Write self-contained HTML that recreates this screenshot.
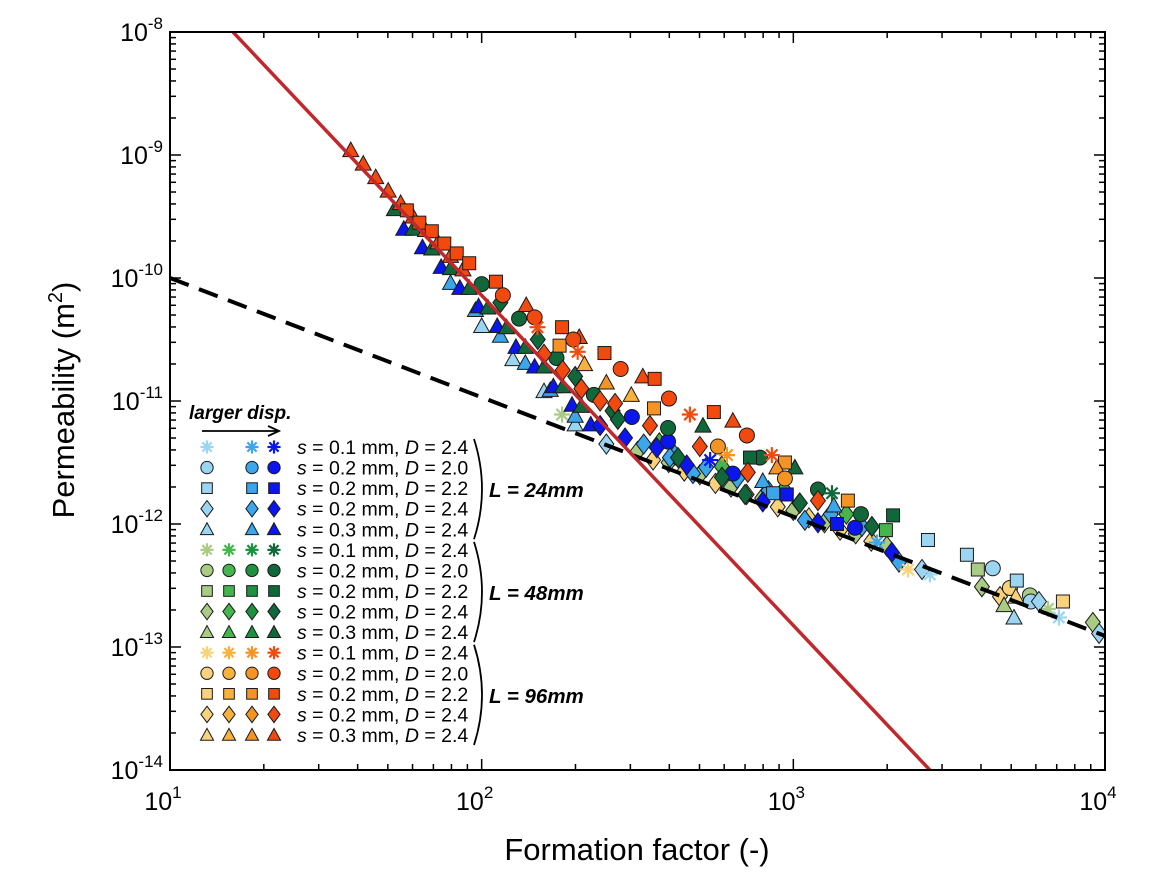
<!DOCTYPE html>
<html><head><meta charset="utf-8"><style>
body{margin:0;background:#fff;}
svg text{font-family:"Liberation Sans",Arial,sans-serif;}
</style></head><body>
<svg id="chart" width="1160" height="876" viewBox="0 0 1160 876" xmlns="http://www.w3.org/2000/svg">
<defs><clipPath id="pc"><rect x="170" y="32" width="935" height="738"/></clipPath></defs>
<g id="marks" clip-path="url(#pc)"></g>
<g id="axes"></g>
<g id="legend"></g>
</svg>
<script>
// ---- data (log10 units) ----
const xDecades=[1,2,3,4];
const yDecades=[-8,-9,-10,-11,-12,-13,-14];
const redLineLogF=[1.202,3.438];
const redLineLogK=[-8,-14];
const dashLogF=[1,4];
const dashLogK=[-10,-12.91];

const rdTriF=[1.58,1.62,1.66,1.70,1.74,1.78,1.82,1.86,1.90,1.94,2.143,2.313,2.517,2.806];
const rdTriK=[-8.96,-9.07,-9.18,-9.29,-9.39,-9.50,-9.61,-9.71,-9.82,-9.93,-10.22,-10.48,-10.80,-11.16];
const rdSqF=[1.76,1.80,1.84,1.88,1.92,1.96,2.046,2.258,2.394,2.555,2.745];
const rdSqK=[-9.45,-9.55,-9.62,-9.72,-9.80,-9.88,-10.03,-10.40,-10.61,-10.82,-11.09];
const rdCircF=[2.068,2.170,2.294,2.446,2.601,2.851];
const rdCircK=[-10.14,-10.32,-10.50,-10.74,-10.98,-11.28];
const rdAstF=[2.179,2.308,2.668,2.931];
const rdAstK=[-10.40,-10.60,-11.11,-11.44];
const rdDiaF=[2.20,2.26,2.32,2.38,2.428,2.540,2.700,2.854,3.079];
const rdDiaK=[-10.62,-10.75,-10.90,-11.00,-11.02,-11.20,-11.37,-11.58,-11.81];
const o3SqF=[2.25,2.553,2.973,3.175];
const o3SqK=[-10.55,-11.06,-11.50,-11.81];
const o3TriF=[2.40,2.947];
const o3TriK=[-10.85,-11.54];
const o3CircF=[2.758,2.973];
const o3CircK=[-11.37,-11.63];
const o3AstF=[2.787];
const o3AstK=[-11.44];
const o2TriF=[2.33,2.48];
const o2TriK=[-10.7,-10.95];
const dgTriF=[1.72,1.78,1.84,1.90,1.96,2.02,2.08,2.14,2.20,2.26,2.32,2.710,3.005];
const dgTriK=[-9.44,-9.60,-9.76,-9.92,-10.08,-10.24,-10.40,-10.56,-10.72,-10.88,-11.04,-11.20,-11.54];
const dgCircF=[2.0,2.12,2.24,2.36,2.598,2.893,3.079,3.217];
const dgCircK=[-10.05,-10.33,-10.65,-10.95,-11.22,-11.46,-11.72,-11.92];
const dgDiaF=[2.06,2.18,2.30,2.42,2.437,2.630,2.771,2.845,3.021,3.252];
const dgDiaK=[-10.2,-10.5,-10.8,-11.08,-11.15,-11.46,-11.62,-11.76,-11.83,-12.02];
const dgSqF=[2.861,3.320];
const dgSqK=[-11.46,-11.93];
const dgAstF=[3.124];
const dgAstK=[-11.75];
const g2SqF=[3.297];
const g2SqK=[-12.05];
const g2DiaF=[2.57,2.77,2.97,3.17];
const g2DiaK=[-11.34,-11.53,-11.72,-11.92];
const blTriF=[1.75,1.81,1.87,1.93,1.99,2.05,2.11,2.17,2.23,2.29,2.35];
const blTriK=[-9.60,-9.75,-9.91,-10.08,-10.23,-10.39,-10.56,-10.72,-10.88,-11.03,-11.19];
const blCircF=[2.482,2.598,2.806,3.198];
const blCircK=[-11.13,-11.33,-11.59,-12.03];
const blDiaF=[2.38,2.46,2.562,2.658,2.902,3.079,3.316];
const blDiaK=[-11.2,-11.3,-11.38,-11.52,-11.82,-11.99,-12.23];
const blSqF=[2.979,3.140];
const blSqK=[-11.76,-12.0];
const blAstF=[2.733];
const blAstK=[-11.48];
const mbTriF=[1.90,1.98,2.06,2.14,2.22,2.30,2.902,3.130];
const mbTriK=[-10.04,-10.26,-10.47,-10.69,-10.91,-11.12,-11.65,-11.85];
const mbDiaF=[2.52,2.62,2.72,2.82,2.92,3.02,3.12,3.22,2.604,2.678,3.037,3.339];
const mbDiaK=[-11.35,-11.44,-11.54,-11.63,-11.73,-11.83,-11.92,-12.02,-11.46,-11.59,-11.97,-12.31];
const mbSqF=[2.935];
const mbSqK=[-11.75];
const mbAstF=[3.268];
const mbAstK=[-12.15];
const lbTriF=[2.0,2.1,2.2,2.3,3.708];
const lbTriK=[-10.39,-10.66,-10.92,-11.19,-12.76];
const lbSqF=[3.432,3.557,3.717];
const lbSqK=[-12.13,-12.25,-12.46];
const lbCircF=[3.640,3.762];
const lbCircK=[-12.36,-12.63];
const lbDiaF=[2.4,3.413,3.788,3.981];
const lbDiaK=[-11.35,-12.37,-12.63,-12.89];
const lbAstF=[3.438,3.852];
const lbAstK=[-12.41,-12.76];
const lgSqF=[3.592];
const lgSqK=[-12.37];
const lgDiaF=[2.50,2.6,2.7,2.8,2.9,3.0,3.1,3.2,3.3,3.605,3.961];
const lgDiaK=[-11.41,-11.50,-11.60,-11.70,-11.79,-11.89,-11.99,-12.08,-12.18,-12.51,-12.80];
const lgTriF=[3.676];
const lgTriK=[-12.66];
const lgCircF=[3.759];
const lgCircK=[-12.58];
const lgAstF=[3.817,2.258];
const lgAstK=[-12.69,-11.11];
const lyDiaF=[2.55,2.65,2.75,2.85,2.95,3.05,3.15,3.25,3.663];
const lyDiaK=[-11.48,-11.57,-11.67,-11.76,-11.86,-11.95,-12.05,-12.14,-12.59];
const lyCircF=[3.695];
const lyCircK=[-12.52];
const lyTriF=[3.714];
const lyTriK=[-12.59];
const lySqF=[3.865];
const lySqK=[-12.63];
const lyAstF=[3.368];
const lyAstK=[-12.37];

const COL={lb:'#9bd5f2',mb:'#3ba6ea',bl:'#0b16ee',lg:'#aacb84',g2:'#45b64e',g3:'#1c9140',dg:'#10683a',ly:'#f9d27e',o2:'#f8b23c',o3:'#f39425',rd:'#f24a0e'};
const SERIES=[
['dia','lg',lgDiaF,lgDiaK],['dia','ly',lyDiaF,lyDiaK],['dia','g2',g2DiaF,g2DiaK],['dia','mb',mbDiaF,mbDiaK],
['sq','lg',lgSqF,lgSqK],['tri','lg',lgTriF,lgTriK],['circ','lg',lgCircF,lgCircK],['ast','lg',lgAstF,lgAstK],
['circ','ly',lyCircF,lyCircK],['tri','ly',lyTriF,lyTriK],['sq','ly',lySqF,lySqK],['ast','ly',lyAstF,lyAstK],
['tri','lb',lbTriF,lbTriK],['sq','lb',lbSqF,lbSqK],['circ','lb',lbCircF,lbCircK],['dia','lb',lbDiaF,lbDiaK],['ast','lb',lbAstF,lbAstK],
['tri','mb',mbTriF,mbTriK],['sq','mb',mbSqF,mbSqK],['ast','mb',mbAstF,mbAstK],
['tri','bl',blTriF,blTriK],['circ','bl',blCircF,blCircK],['dia','bl',blDiaF,blDiaK],['sq','bl',blSqF,blSqK],['ast','bl',blAstF,blAstK],
['tri','dg',dgTriF,dgTriK],['circ','dg',dgCircF,dgCircK],['dia','dg',dgDiaF,dgDiaK],['sq','dg',dgSqF,dgSqK],['ast','dg',dgAstF,dgAstK],['sq','g2',g2SqF,g2SqK],
['tri','o2',o2TriF,o2TriK],['sq','o3',o3SqF,o3SqK],['tri','o3',o3TriF,o3TriK],['circ','o3',o3CircF,o3CircK],['ast','o3',o3AstF,o3AstK],
['tri','rd',rdTriF,rdTriK],['sq','rd',rdSqF,rdSqK],['circ','rd',rdCircF,rdCircK],['ast','rd',rdAstF,rdAstK],['dia','rd',rdDiaF,rdDiaK]
];

// ---- scales ----
const X0=170,X1=1105,Y0=32,Y1=770;
const xs=l=>X0+(l-1)/3*(X1-X0);
const ys=l=>Y0+(-8-l)/6*(Y1-Y0);
const NS='http://www.w3.org/2000/svg';
function mk(tag,attrs,parent){const e=document.createElementNS(NS,tag);for(const k in attrs)e.setAttribute(k,attrs[k]);parent.appendChild(e);return e;}

function marker(shape,color,cx,cy,parent,s){
  s=s||1;let e;const st={fill:color,stroke:'#1a1a1a','stroke-width':1};
  if(shape==='circ'){e=mk('circle',Object.assign({cx:cx,cy:cy,r:7.5*s},st),parent);}
  else if(shape==='sq'){e=mk('rect',Object.assign({x:cx-6.5*s,y:cy-6.5*s,width:13*s,height:13*s},st),parent);}
  else if(shape==='dia'){e=mk('polygon',Object.assign({points:`${cx},${cy-10*s} ${cx+7.5*s},${cy} ${cx},${cy+10*s} ${cx-7.5*s},${cy}`},st),parent);}
  else if(shape==='tri'){e=mk('polygon',Object.assign({points:`${cx},${cy-8*s} ${cx+8*s},${cy+6.5*s} ${cx-8*s},${cy+6.5*s}`},st),parent);}
  else {e=mk('g',{stroke:color,'stroke-width':2.2},parent);const r=8*s;
    for(let a=0;a<4;a++){const t=a*Math.PI/4;mk('line',{x1:cx-r*Math.cos(t),y1:cy-r*Math.sin(t),x2:cx+r*Math.cos(t),y2:cy+r*Math.sin(t)},e);}}
  return e;
}

const marks=document.getElementById('marks');
SERIES.forEach(([shape,c,F,K])=>{
  F.forEach((f,i)=>{
    const m=marker(shape,COL[c],xs(f),ys(K[i]),marks);
    
    
  });
});
const dl=mk('line',{x1:xs(dashLogF[0]),y1:ys(dashLogK[0]),x2:xs(dashLogF[1]),y2:ys(dashLogK[1]),stroke:'#000','stroke-width':4,'stroke-dasharray':'20 11'},marks);


const rl=mk('line',{x1:xs(redLineLogF[0]),y1:ys(redLineLogK[0]),x2:xs(redLineLogF[1]),y2:ys(redLineLogK[1]),stroke:'#c0282c','stroke-width':3.5},marks);



// ---- axes ----
const ax=document.getElementById('axes');
mk('rect',{x:X0,y:Y0,width:X1-X0,height:Y1-Y0,fill:'none',stroke:'#000','stroke-width':2},ax);
for(let d=1;d<=4;d++){
  for(let m=1;m<=9;m++){ if(d===4&&m>1)break;
    const x=xs(d+Math.log10(m));const L=m===1?11:6;
    mk('line',{x1:x,y1:Y1,x2:x,y2:Y1-L,stroke:'#000','stroke-width':1.5},ax);
    mk('line',{x1:x,y1:Y0,x2:x,y2:Y0+L,stroke:'#000','stroke-width':1.5},ax);
  }
}
for(let d=-14;d<=-8;d++){
  for(let m=1;m<=9;m++){ if(d===-8&&m>1)break;
    const y=ys(d+Math.log10(m));const L=m===1?11:6;
    mk('line',{x1:X0,y1:y,x2:X0+L,y2:y,stroke:'#000','stroke-width':1.5},ax);
    mk('line',{x1:X1,y1:y,x2:X1-L,y2:y,stroke:'#000','stroke-width':1.5},ax);
  }
}
xDecades.forEach(d=>{
  const t=mk('text',{x:xs(d)-7,y:810,'font-size':25,'text-anchor':'middle'},ax);
  
  
  t.innerHTML=`10<tspan dy="-12" font-size="17">${d}</tspan>`;
});
yDecades.forEach(d=>{
  const t=mk('text',{x:163,y:ys(d)+9,'font-size':25,'text-anchor':'end'},ax);
  
  
  t.innerHTML=`10<tspan dy="-12" font-size="17">${d}</tspan>`;
});
const xt=mk('text',{x:637,y:860,'font-size':31,'text-anchor':'middle'},ax);


xt.textContent='Formation factor (-)';
const yt=mk('text',{x:0,y:0,'font-size':31,'text-anchor':'middle',transform:'translate(74,400) rotate(-90)'},ax);


yt.innerHTML='Permeability (m<tspan dy="-12" font-size="20">2</tspan><tspan dy="12">)</tspan>';

// ---- legend ----
const lg=document.getElementById('legend');
const ldt=mk('text',{x:189,y:419,'font-size':19,'font-weight':'bold','font-style':'italic'},lg);


ldt.textContent='larger disp.';
mk('line',{x1:202,y1:431,x2:278,y2:431,stroke:'#000','stroke-width':1.8},lg);
mk('polyline',{points:'268,426 279,431 268,436',fill:'none',stroke:'#000','stroke-width':1.8},lg);
const legShapes=['ast','circ','sq','dia','tri'];
const legText=[['0.1','2.4'],['0.2','2.0'],['0.2','2.2'],['0.2','2.4'],['0.3','2.4']];
const legGroups=[['lb',null,'mb','bl'],['lg','g2','g3','dg'],['ly','o2','o3','rd']];
const legL=['24mm','48mm','96mm'];
const colX=[207,229,252,274];
legGroups.forEach((cols,g)=>{
  legShapes.forEach((sh,r)=>{
    const y=447+(g*5+r)*20.57;
    cols.forEach((c,ci)=>{ if(!c)return;
      const m=marker(sh,COL[c],colX[ci],y,lg,0.82);
      
      
    });
    const t=mk('text',{x:297,y:y+7,'font-size':19.5},lg);
    
    
    t.innerHTML=`<tspan font-style="italic">s</tspan> = ${legText[r][0]} mm, <tspan font-style="italic">D</tspan> = ${legText[r][1]}`;
  });
  const yTop=439+g*5*20.57, yBot=yTop+4*20.57+18;
  mk('path',{d:`M474,${yTop} Q490,${(yTop+yBot)/2} 474,${yBot}`,fill:'none',stroke:'#000','stroke-width':1.8},lg);
  const lt=mk('text',{x:489,y:(yTop+yBot)/2+8,'font-size':20.5,'font-weight':'bold','font-style':'italic'},lg);
  
  
  lt.textContent='L = '+legL[g];
});
</script>
</body></html>
